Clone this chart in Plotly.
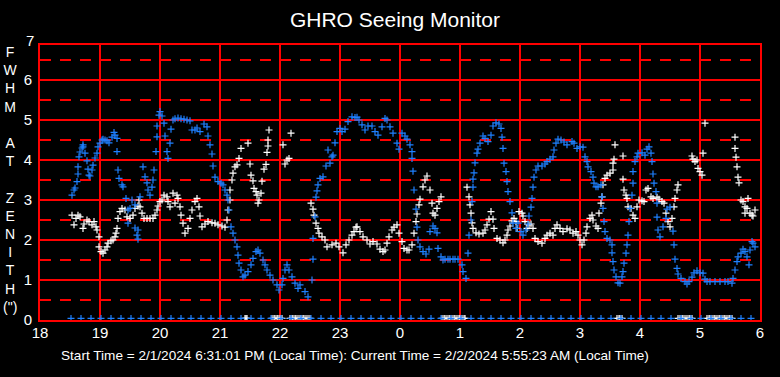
import plotly.graph_objects as go

# ---------------- data (minutes after 18:00, FWHM arcsec) ----------------
blue_min = [32, 34, 35, 37, 38, 38, 39, 40, 42, 43,
            43, 45, 47, 48, 49, 50, 52, 53, 55, 57,
            58, 60, 62, 63, 65, 67, 69, 72, 74, 75,
            77, 77, 78, 79, 82, 83, 86, 88, 88, 90,
            92, 95, 95, 97, 98, 98, 100, 103, 105, 107,
            108, 110, 112, 113, 114, 116, 117, 117, 119, 120,
            122, 124, 125, 127, 128, 130, 131, 133, 135, 138,
            141, 144, 147, 150, 152, 155, 157, 160, 164, 167,
            168, 170, 172, 173, 175, 178, 181, 183, 185, 187,
            188, 189, 191, 193, 195, 197, 198, 199, 201, 203,
            205, 208, 211, 213, 216, 218, 220, 223, 225, 227,
            230, 233, 237, 239, 242, 243, 245, 247, 249, 252,
            255, 258, 260, 265, 268, 272, 273, 273, 275, 276,
            277, 278, 280, 283, 286, 288, 290, 292, 293, 295,
            297, 300, 302, 305, 308, 312, 315, 317, 319, 322,
            325, 328, 332, 335, 338, 342, 345, 347, 350, 353,
            357, 359, 362, 365, 367, 370, 372, 372, 373, 374,
            376, 377, 378, 380, 383, 386, 389, 390, 393, 395,
            397, 398, 401, 403, 405, 408, 410, 413, 415, 418,
            422, 423, 426, 428, 429, 431, 432, 433, 433, 434,
            435, 437, 438, 440, 443, 445, 448, 451, 453, 456,
            459, 461, 462, 463, 464, 466, 467, 468, 470, 472,
            473, 476, 478, 481, 483, 486, 488, 489, 491, 492,
            493, 494, 496, 498, 502, 505, 507, 510, 513, 514,
            516, 518, 521, 524, 527, 532, 534, 537, 540, 543,
            545, 547, 548, 551, 553, 554, 556, 558, 561, 562,
            563, 564, 565, 567, 570, 572, 572, 573, 574, 576,
            578, 580, 582, 583, 584, 586, 587, 588, 589, 590,
            592, 593, 593, 595, 597, 598, 602, 605, 607, 609,
            611, 612, 613, 614, 616, 617, 617, 618, 620, 623,
            626, 627, 630, 633, 634, 635, 637, 638, 641, 645,
            647, 649, 652, 654, 657, 660, 663, 665, 667, 670,
            675, 680, 685, 688, 692, 693, 695, 697, 698, 701,
            703, 705, 707, 709, 710, 712, 713, 715]
blue_fwhm = [3.12, 3.25, 3.30, 3.46, 3.65, 3.83, 4.08, 4.20, 4.30, 4.38,
             4.33, 4.17, 3.98, 3.77, 3.62, 3.60, 3.75, 3.87, 4.05, 4.17,
             4.33, 4.42, 4.50, 4.52, 4.50, 4.48, 4.43, 4.57, 4.69, 4.62,
             4.54, 4.21, 3.75, 3.54, 3.38, 3.33, 3.04, 2.75, 2.42, 2.79,
             3.00, 2.88, 2.30, 2.12, 2.02, 2.25, 3.08, 3.83, 3.58, 3.43,
             3.25, 3.12, 3.32, 3.50, 3.75, 4.21, 4.58, 4.85, 5.12, 5.21,
             5.10, 4.92, 4.60, 4.21, 4.04, 4.42, 4.77, 5.00, 5.03, 5.05,
             5.03, 5.02, 5.00, 4.98, 4.75, 4.75, 4.80, 4.71, 4.90, 4.83,
             4.60, 4.38, 4.15, 3.85, 3.57, 3.46, 3.42, 3.38, 3.25, 3.12,
             3.00, 2.75, 2.33, 2.17, 2.00, 1.83, 1.62, 1.42, 1.25, 1.08,
             1.12, 1.21, 1.38, 1.54, 1.71, 1.75, 1.67, 1.50, 1.38, 1.25,
             1.12, 1.00, 0.88, 0.75, 0.88, 1.04, 1.25, 1.38, 1.25, 1.08,
             0.92, 0.79, 0.88, 0.71, 0.58, 1.00, 1.52, 2.04, 2.58, 3.07,
             3.23, 3.38, 3.54, 3.58, 3.85, 4.25, 3.92, 4.08, 4.12, 4.43,
             4.71, 4.79, 4.71, 4.77, 4.96, 5.08, 5.06, 5.07, 5.00, 4.88,
             4.75, 4.85, 4.85, 4.71, 4.62, 4.83, 5.04, 5.00, 4.83, 4.67,
             4.42, 4.27, 4.67, 4.60, 4.52, 4.38, 4.21, 4.04, 3.72, 3.25,
             2.77, 2.32, 2.00, 1.83, 1.71, 1.65, 1.77, 2.21, 2.35, 2.29,
             2.18, 1.79, 1.58, 1.50, 1.52, 1.52, 1.52, 1.52, 1.52, 1.52,
             1.38, 1.21, 1.04, 1.67, 2.12, 2.50, 2.96, 3.32, 3.52, 3.68,
             3.93, 4.17, 4.27, 4.42, 4.60, 4.54, 4.46, 4.62, 4.85, 4.93,
             4.90, 4.79, 4.57, 4.29, 3.92, 3.71, 3.46, 3.21, 2.96, 2.68,
             2.42, 2.29, 2.42, 2.21, 2.12, 2.25, 2.40, 2.60, 2.82, 3.04,
             3.32, 3.57, 3.75, 3.85, 3.85, 3.90, 3.96, 4.02, 4.08, 4.25,
             4.42, 4.52, 4.50, 4.45, 4.38, 4.46, 4.42, 4.29, 4.33, 4.32,
             4.08, 3.96, 3.83, 3.71, 3.57, 3.42, 3.33, 3.33, 3.38, 3.08,
             2.79, 2.46, 2.21, 2.04, 2.00, 1.88, 1.68, 1.46, 1.25, 1.08,
             0.93, 0.92, 1.08, 1.21, 1.42, 1.67, 1.88, 2.12, 2.46, 2.79,
             3.12, 3.42, 3.71, 3.96, 4.08, 4.17, 4.18, 4.12, 4.27, 4.33,
             4.17, 3.96, 3.65, 3.42, 3.21, 2.92, 2.57, 2.25, 2.08, 2.33,
             2.54, 2.77, 2.82, 2.22, 1.88, 1.52, 1.29, 1.15, 1.04, 0.96,
             0.90, 0.96, 1.07, 1.18, 1.23, 1.18, 1.17, 1.02, 0.96, 0.96,
             0.96, 0.96, 0.96, 0.96, 0.92, 1.04, 1.25, 1.46, 1.58, 1.67,
             1.77, 1.71, 1.58, 1.38, 1.75, 1.96, 1.92, 1.83]

white_min = [32, 34, 36, 38, 40, 43, 44, 47, 49, 52,
             54, 56, 57, 59, 59, 61, 63, 65, 67, 68,
             71, 73, 75, 76, 77, 78, 80, 82, 85, 87,
             90, 93, 95, 98, 99, 100, 102, 104, 107, 110,
             113, 115, 117, 118, 120, 122, 124, 127, 128, 130,
             133, 135, 137, 138, 140, 141, 143, 145, 148, 150,
             152, 155, 157, 159, 160, 162, 165, 168, 172, 175,
             178, 182, 185, 187, 188, 190, 190, 192, 193, 195,
             197, 199, 201, 208, 210, 211, 213, 214, 216, 217,
             218, 219, 221, 222, 224, 226, 227, 228, 228, 229,
             243, 245, 247, 249, 251,
             271, 273, 274, 276, 278, 279, 282, 285, 287, 292,
             296, 299, 303, 306, 309, 312, 314, 316, 317, 320,
             323, 327, 330, 333, 337, 340, 343, 345, 347, 349,
             352, 354, 357, 359, 362, 364, 367, 369, 372, 374,
             376, 377, 379, 380, 383, 385, 387, 390, 392, 393,
             395, 397, 399, 401, 427, 429, 430, 431, 432, 433,
             436, 439, 443, 445, 447, 449, 451, 453, 454, 457,
             460, 463, 465, 467, 468, 470, 472, 474, 476, 477,
             479, 482, 483, 485, 487, 489, 491, 493, 495, 498,
             502, 505, 507, 510, 513, 515, 517, 520, 523, 527,
             530, 533, 536, 538, 540, 542, 544, 546, 547, 550,
             552, 553, 556, 558, 559, 561, 562, 563, 565, 567,
             570, 573, 573, 574, 575, 583, 583, 584, 586, 587,
             588, 591, 593, 595, 597, 599, 602, 604, 606, 608,
             611, 613, 617, 619, 622, 624, 626, 628, 630, 632,
             634, 635, 637, 638, 652, 653, 655, 657, 658, 660,
             662, 663, 665, 695, 695, 696, 697, 698, 699, 701,
             703, 705, 705, 707, 708, 710, 712, 713, 715]
white_fwhm = [2.62, 2.38, 2.54, 2.62, 2.58, 2.29, 2.40, 2.50, 2.46, 2.38,
              2.46, 2.33, 2.25, 2.08, 1.83, 1.71, 1.67, 1.75, 1.83, 1.92,
              1.98, 2.00, 2.08, 2.17, 2.29, 2.54, 2.71, 2.79, 2.75, 2.58,
              2.54, 2.62, 2.79, 2.85, 3.00, 2.83, 2.67, 2.54, 2.54, 2.54,
              2.54, 2.62, 2.75, 2.85, 2.96, 3.00, 3.12, 3.08, 2.96, 2.83,
              3.17, 2.92, 3.12, 3.04, 2.83, 2.62, 2.42, 2.17, 2.29, 2.54,
              2.75, 2.96, 3.04, 2.83, 2.60, 2.33, 2.40, 2.46, 2.43, 2.42,
              2.38, 2.35, 2.32, 2.50, 2.75, 3.00, 3.25, 3.50, 3.67, 3.83,
              3.88, 4.04, 4.29, 4.42, 3.90, 3.62, 3.48, 3.29, 3.21, 3.12,
              2.92, 3.00, 3.17, 3.47, 3.77, 3.89, 4.19, 4.35, 4.50, 4.75,
              4.38, 3.90, 4.00, 4.04, 4.67,
              2.92, 2.77, 2.62, 2.42, 2.29, 2.17, 2.08, 2.00, 1.83, 1.88,
              1.92, 1.83, 1.68, 1.88, 2.00, 2.12, 2.21, 2.32, 2.33, 2.21,
              2.08, 2.00, 1.90, 1.96, 1.90, 1.77, 1.71, 1.75, 1.92, 2.08,
              2.25, 2.32, 2.38, 2.17, 1.96, 1.79, 1.75, 1.75, 1.88, 2.17,
              2.46, 2.65, 2.88, 3.02, 3.33, 3.50, 3.60, 3.25, 2.92, 2.67,
              2.62, 2.79, 2.96, 3.08, 3.32, 3.08, 2.88, 2.67, 2.43, 2.29,
              2.18, 2.15, 2.17, 2.25, 2.38, 2.52, 2.71, 2.52, 2.29, 2.04,
              2.00, 1.93, 2.00, 2.12, 2.25, 2.35, 2.48, 2.54, 2.46, 2.29,
              2.71, 2.67, 2.60, 2.46, 2.29, 2.38, 2.40, 2.29, 2.04, 1.96,
              1.92, 2.04, 2.12, 2.17, 2.12, 2.29, 2.38, 2.29, 2.21, 2.28,
              2.25, 2.17, 2.21, 2.12, 2.00, 1.88, 2.00, 2.17, 2.33, 2.54,
              2.62, 2.50, 2.35, 2.29, 2.67, 2.92, 3.08, 3.38, 3.54, 3.62,
              3.67, 3.75, 3.92, 4.02, 4.38, 4.10, 3.52, 3.25, 3.12, 3.04,
              2.83, 2.79, 2.62, 2.54, 2.83, 3.00, 2.98, 2.96, 3.25, 3.29,
              3.08, 3.04, 3.07, 3.02, 2.96, 2.92, 2.67, 2.46, 2.33, 2.54,
              2.83, 3.04, 3.25, 3.38, 4.10, 4.02, 3.96, 4.00, 3.79, 3.71,
              3.62, 4.17, 4.92, 4.29, 4.57, 4.07, 3.83, 3.57, 3.43, 3.00,
              2.96, 2.83, 2.67, 2.79, 3.04, 2.67, 2.62, 2.60, 2.75]

# readings that sit on the zero line (no measurement)
blue_zero_min = [31, 41, 51, 61, 71, 81, 91, 101, 111, 121,
                 131, 141, 151, 161, 171, 181, 191, 201, 211, 221,
                 231, 241, 251, 261, 271, 281, 291, 301, 311, 321,
                 331, 341, 351, 361, 371, 381, 391, 401, 411, 421,
                 431, 441, 451, 461, 471, 481, 491, 501, 511, 521,
                 531, 541, 551, 561, 571, 581, 591, 601, 611, 621,
                 631, 641, 651, 661, 671, 681, 691, 701, 711]
white_zero_min = [205, 206, 207,
                  232, 234, 235, 237, 238, 240, 242,
                  250, 252, 253, 255, 256, 258, 260, 261, 263, 264, 266, 268, 270,
                  402, 404, 405, 407, 409, 410, 412, 414, 415, 417, 419, 420, 422, 424, 425,
                  577, 579, 580, 582,
                  638, 640, 642, 643, 645, 647, 649, 650, 652,
                  667, 669, 670, 672, 674, 675, 677, 679, 680, 682, 684, 685, 687, 689, 690, 692]
zero_level = 0.04

hour_ticks = [18, 19, 20, 21, 22, 23, 24, 25, 26, 27, 28, 29, 30]
hour_labels = ["18", "19", "20", "21", "22", "23", "0", "1", "2", "3", "4", "5", "6"]
fwhm_ticks = [0, 1, 2, 3, 4, 5, 6]
fwhm_half_ticks = [0.5, 1.5, 2.5, 3.5, 4.5, 5.5, 6.5]
ylabel_letters = ["F", "W", "H", "M", "", "A", "T", "", "Z", "E", "N", "I", "T", "H", "(\")"]
title_text = "GHRO Seeing Monitor"
footer_text = ("Start Time = 2/1/2024 6:31:01 PM (Local Time): "
               "Current Time = 2/2/2024 5:55:23 AM (Local Time)")

# ---------------- figure ----------------
def to_hours(mins):
    return [18 + m / 60.0 for m in mins]

BLUE = "#1e80ff"
RED = "#ff0000"
FONT = "Liberation Sans Narrow, Arial Narrow, Liberation Sans, Arial, sans-serif"

def cross(color):
    return dict(symbol="cross-thin", size=5, line=dict(width=1.2, color=color), color=color)

fig = go.Figure()
fig.add_trace(go.Scatter(x=to_hours(white_min), y=white_fwhm, mode="markers",
                         marker=cross("white"), hoverinfo="skip"))
fig.add_trace(go.Scatter(x=to_hours(white_zero_min), y=[zero_level] * len(white_zero_min),
                         mode="markers", marker=cross("white"), hoverinfo="skip"))
fig.add_trace(go.Scatter(x=to_hours(blue_min), y=blue_fwhm, mode="markers",
                         marker=cross(BLUE), hoverinfo="skip"))
fig.add_trace(go.Scatter(x=to_hours(blue_zero_min), y=[zero_level] * len(blue_zero_min),
                         mode="markers", marker=cross(BLUE), hoverinfo="skip"))

fig.update_layout(
    width=780, height=377,
    margin=dict(l=40, r=20, t=45, b=57),
    paper_bgcolor="black", plot_bgcolor="black",
    showlegend=False,
    title=dict(text=title_text, x=395 / 780, xanchor="center", xref="container",
               y=1 - 20 / 377, yanchor="middle", yref="container",
               font=dict(color="white", size=21, family="Liberation Sans, Arial, sans-serif")),
    xaxis=dict(range=[18, 30], tickmode="array", tickvals=hour_ticks, ticktext=hour_labels,
               showgrid=True, gridcolor=RED, gridwidth=2,
               showline=True, linecolor=RED, linewidth=2, mirror=True,
               zeroline=False, ticks="", ticklabelstandoff=-2,
               tickfont=dict(color="white", size=15, family=FONT)),
    yaxis=dict(range=[0, 6.875], tickmode="array", tickvals=fwhm_ticks,
               showgrid=True, gridcolor=RED, gridwidth=2,
               minor=dict(tickmode="array", tickvals=fwhm_half_ticks, showgrid=True,
                          gridcolor=RED, gridwidth=2, griddash="11px,9px"),
               showline=True, linecolor=RED, linewidth=2, mirror=True,
               zeroline=False, ticks="", ticklabelstandoff=3,
               tickfont=dict(color="white", size=15, family=FONT)),
)

# "7" label sits just above the plot frame
fig.add_annotation(text="7", xref="paper", yref="paper", x=0, y=1, xanchor="right",
                   yanchor="middle", xshift=-4, yshift=5, showarrow=False,
                   font=dict(color="white", size=15, family=FONT))
# vertical letter-by-letter axis title
fig.add_annotation(text="<br>".join(ylabel_letters), xref="paper", yref="paper",
                   x=-30 / 720, y=(320 - 179.5) / 275, xanchor="center", yanchor="middle",
                   showarrow=False, align="center",
                   font=dict(color="white", size=14, family=FONT))
# footer
fig.add_annotation(text=footer_text, xref="paper", yref="paper",
                   x=(355 - 40) / 720, y=-35 / 275, xanchor="center", yanchor="middle",
                   showarrow=False, font=dict(color="white", size=13.6, family=FONT))

fig.write_html("out.html", config={"displayModeBar": False},
               post_script="document.body.style.margin='0px';document.body.style.background='black';")
